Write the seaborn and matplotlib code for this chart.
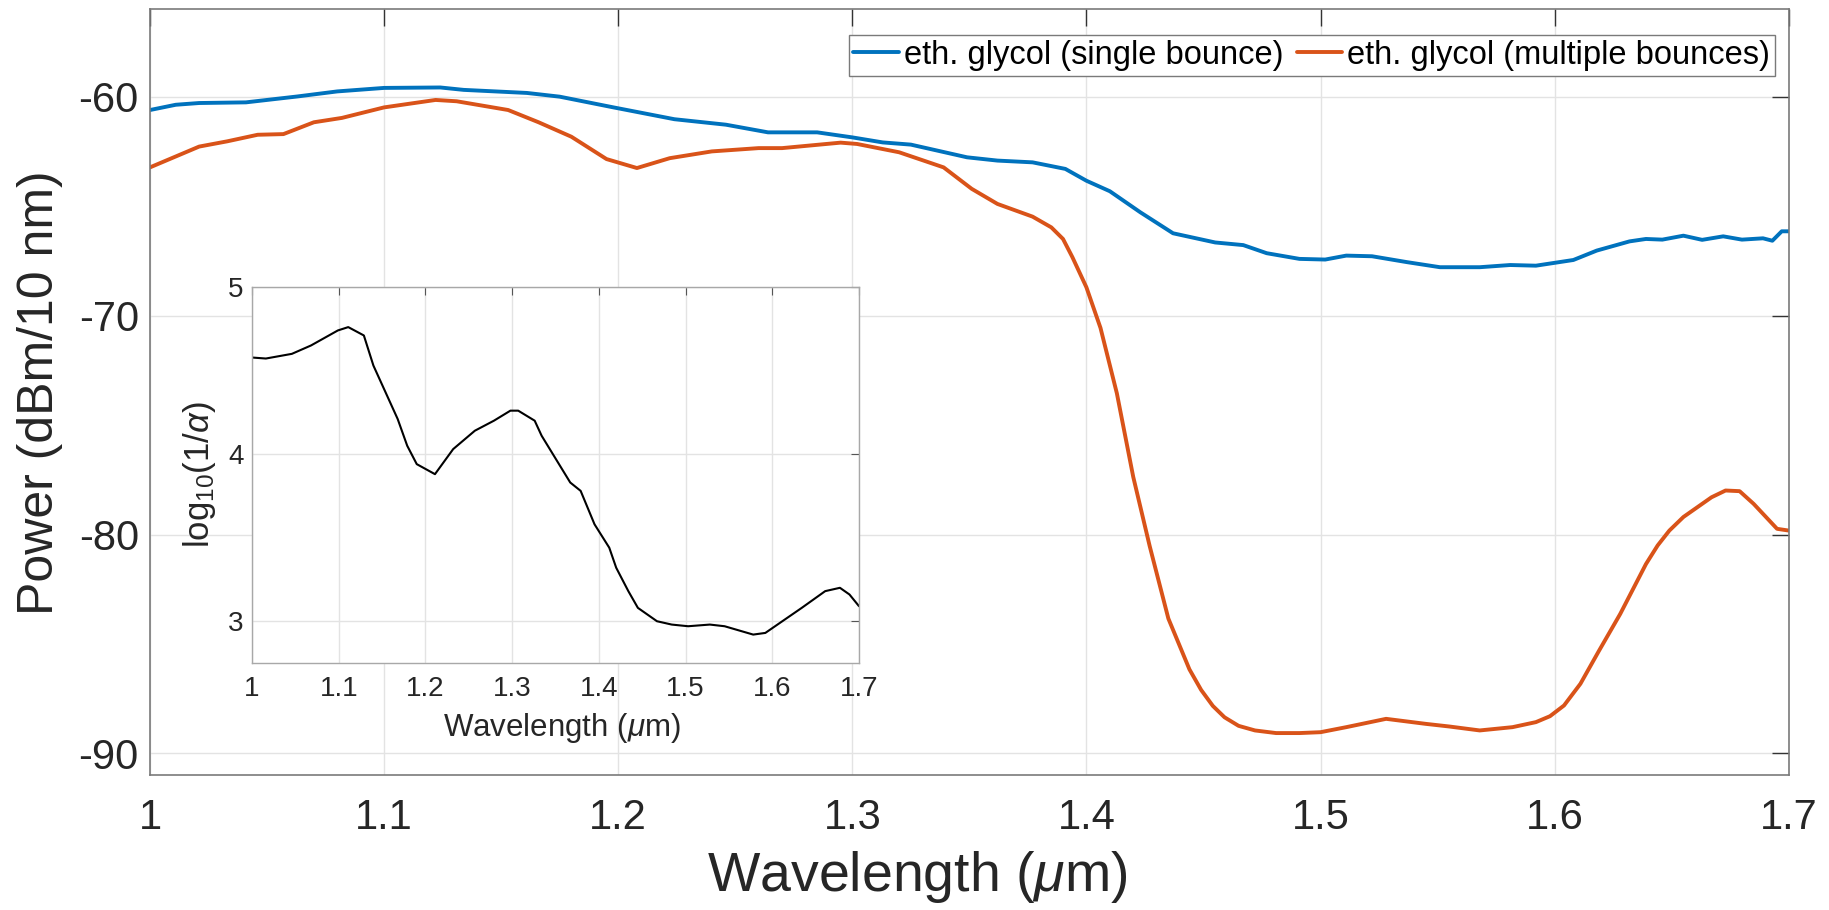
import matplotlib
matplotlib.use("Agg")
import matplotlib.pyplot as plt
import seaborn as sns
import numpy as np
import pandas as pd

# ---------------- data ----------------
blue_x = [1.000, 1.011, 1.021, 1.041, 1.063, 1.080, 1.100, 1.124, 1.134, 1.161, 1.175, 1.198,
          1.224, 1.246, 1.264, 1.285, 1.300, 1.313, 1.325, 1.349, 1.362, 1.377, 1.391, 1.400,
          1.410, 1.423, 1.437, 1.455, 1.467, 1.477, 1.491, 1.502, 1.511, 1.522, 1.537, 1.551,
          1.568, 1.581, 1.592, 1.608, 1.618, 1.632, 1.639, 1.646, 1.655, 1.663, 1.672, 1.680,
          1.689, 1.693, 1.697, 1.700]
blue_y = [-60.61, -60.37, -60.29, -60.26, -59.99, -59.76, -59.60, -59.58, -59.69, -59.83, -60.00, -60.49,
          -61.03, -61.28, -61.63, -61.63, -61.86, -62.09, -62.19, -62.77, -62.92, -63.00, -63.30, -63.84,
          -64.32, -65.28, -66.24, -66.66, -66.78, -67.15, -67.41, -67.44, -67.26, -67.29, -67.56, -67.79,
          -67.79, -67.69, -67.72, -67.46, -67.03, -66.61, -66.50, -66.53, -66.35, -66.54, -66.38, -66.53,
          -66.47, -66.58, -66.15, -66.15]

orange_x = [1.000, 1.021, 1.033, 1.046, 1.057, 1.070, 1.082, 1.100, 1.122, 1.131, 1.153, 1.166,
            1.180, 1.195, 1.208, 1.222, 1.240, 1.260, 1.270, 1.295, 1.302, 1.320, 1.339, 1.351,
            1.362, 1.377, 1.385, 1.390, 1.394, 1.400, 1.406, 1.413, 1.420, 1.427, 1.435, 1.444,
            1.449, 1.454, 1.459, 1.465, 1.472, 1.481, 1.491, 1.500, 1.511, 1.528, 1.545, 1.555,
            1.568, 1.582, 1.592, 1.598, 1.604, 1.611, 1.619, 1.628, 1.639, 1.644, 1.649, 1.655,
            1.661, 1.667, 1.673, 1.679, 1.685, 1.695, 1.700]
orange_y = [-63.23, -62.28, -62.04, -61.74, -61.71, -61.17, -60.97, -60.49, -60.15, -60.21, -60.61, -61.17,
            -61.83, -62.85, -63.26, -62.81, -62.50, -62.35, -62.35, -62.10, -62.16, -62.54, -63.23, -64.21,
            -64.90, -65.48, -65.97, -66.50, -67.33, -68.71, -70.56, -73.55, -77.37, -80.52, -83.84, -86.16,
            -87.10, -87.83, -88.35, -88.74, -88.95, -89.07, -89.07, -89.03, -88.80, -88.42, -88.65, -88.77,
            -88.95, -88.80, -88.57, -88.30, -87.81, -86.82, -85.30, -83.63, -81.35, -80.50, -79.82, -79.20,
            -78.75, -78.30, -77.99, -78.02, -78.60, -79.74, -79.82]

inset_x = [1.000, 1.016, 1.046, 1.068, 1.099, 1.111, 1.129, 1.140, 1.154, 1.168, 1.179, 1.190,
           1.211, 1.232, 1.257, 1.279, 1.298, 1.307, 1.326, 1.334, 1.367, 1.379, 1.395, 1.412,
           1.420, 1.434, 1.445, 1.467, 1.484, 1.503, 1.528, 1.545, 1.578, 1.592, 1.606, 1.634,
           1.661, 1.678, 1.689, 1.700]
inset_y = [4.578, 4.572, 4.60, 4.65, 4.74, 4.76, 4.71, 4.53, 4.37, 4.21, 4.05, 3.94,
           3.88, 4.03, 4.14, 4.20, 4.26, 4.26, 4.20, 4.11, 3.83, 3.78, 3.58, 3.44,
           3.32, 3.18, 3.08, 3.00, 2.98, 2.97, 2.98, 2.97, 2.92, 2.93, 2.98, 3.08,
           3.18, 3.20, 3.16, 3.09]

series_names = ["eth. glycol (single bounce)", "eth. glycol (multiple bounces)"]
series_colors = ["#0072BD", "#D95319"]
x_ticks = [1.0, 1.1, 1.2, 1.3, 1.4, 1.5, 1.6, 1.7]
x_tick_labels = ["1", "1.1", "1.2", "1.3", "1.4", "1.5", "1.6", "1.7"]
y_ticks = [-90, -80, -70, -60]
inset_y_ticks = [3, 4, 5]

# ---------------- style ----------------
sns.set_style("white")
plt.rcParams["font.family"] = ["Liberation Sans", "DejaVu Sans"]
plt.rcParams["axes.unicode_minus"] = False
plt.rcParams["mathtext.fontset"] = "custom"
plt.rcParams["mathtext.rm"] = "Liberation Sans"
plt.rcParams["mathtext.it"] = "Liberation Sans:italic"

df_main = pd.concat([
    pd.DataFrame({"x": blue_x, "y": blue_y, "series": series_names[0]}),
    pd.DataFrame({"x": orange_x, "y": orange_y, "series": series_names[1]}),
], ignore_index=True)
df_inset = pd.DataFrame({"x": inset_x, "y": inset_y})

fig = plt.figure(figsize=(18.29, 9.10), dpi=100)
ax = fig.add_axes([0.082, 0.148, 0.896, 0.842])

sns.lineplot(data=df_main, x="x", y="y", hue="series", palette=series_colors,
             hue_order=series_names, linewidth=2.8, ax=ax, sort=False)
for ln in ax.get_lines():
    ln.set_solid_joinstyle("round")

ax.set_xlim(1.0, 1.7)
ax.set_ylim(-91, -56)
ax.set_xticks(x_ticks)
ax.set_xticklabels(x_tick_labels)
ax.set_yticks(y_ticks)
ax.grid(True, color="#e3e3e3", linewidth=1.0)
ax.set_axisbelow(True)
for s in ax.spines.values():
    s.set_color("#7a7a7a")
    s.set_linewidth(1.2)
ax.tick_params(direction="in", length=12, width=1.0, color="#333333",
               labelsize=30, labelcolor="#262626", top=True, right=True)
ax.tick_params(axis="x", pad=16)
ax.tick_params(axis="y", pad=8)
ax.set_xlabel("Wavelength ($\\mu$m)", fontsize=40, color="#262626")
ax.set_ylabel("Power (dBm/10 nm)", fontsize=36, color="#262626")
ax.xaxis.set_label_coords(0.468, -0.133)
ax.xaxis.label.set_va("center")
ax.yaxis.set_label_coords(-0.067, 0.5)
ax.yaxis.label.set_va("center")

leg = ax.legend(loc="upper right", bbox_to_anchor=(1775 / 1829, 1 - 35 / 910),
                bbox_transform=fig.transFigure, borderaxespad=0, ncol=2,
                fontsize=23.5, frameon=True, fancybox=False, framealpha=1,
                edgecolor="#7a7a7a", borderpad=0.15, handlelength=1.4,
                handletextpad=0.15, columnspacing=0.4, title=None)
leg.get_frame().set_linewidth(1.0)
for t in leg.get_texts():
    t.set_color("#000000")

# ---------------- inset ----------------
axi = fig.add_axes([252 / 1829, 1 - 663 / 910, 607 / 1829, 376 / 910])
axi.set_facecolor("white")
sns.lineplot(data=df_inset, x="x", y="y", color="black", linewidth=1.5, ax=axi, sort=False)
axi.set_xlim(1.0, 1.7)
axi.set_ylim(2.75, 5.0)
axi.set_xticks(x_ticks)
axi.set_xticklabels(x_tick_labels)
axi.set_yticks(inset_y_ticks)
axi.grid(True, color="#e3e3e3", linewidth=1.0)
axi.set_axisbelow(True)
for s in axi.spines.values():
    s.set_color("#a8a8a8")
    s.set_linewidth(1.0)
axi.tick_params(direction="in", length=6, width=0.8, color="#555555",
                labelsize=20, labelcolor="#262626", top=True, right=True)
axi.tick_params(axis="x", pad=9)
axi.tick_params(axis="y", pad=6)
axi.set_xlabel("Wavelength ($\\mu$m)", fontsize=22.5, color="#262626")
axi.set_ylabel("log$_{10}$(1/$\\alpha$)", fontsize=25, color="#262626")
axi.xaxis.set_label_coords(0.511, -0.173)
axi.xaxis.label.set_va("center")
axi.yaxis.set_label_coords(-0.0857, 0.5)
axi.yaxis.label.set_va("center")

fig.savefig("out.png", dpi=100, facecolor="white")
